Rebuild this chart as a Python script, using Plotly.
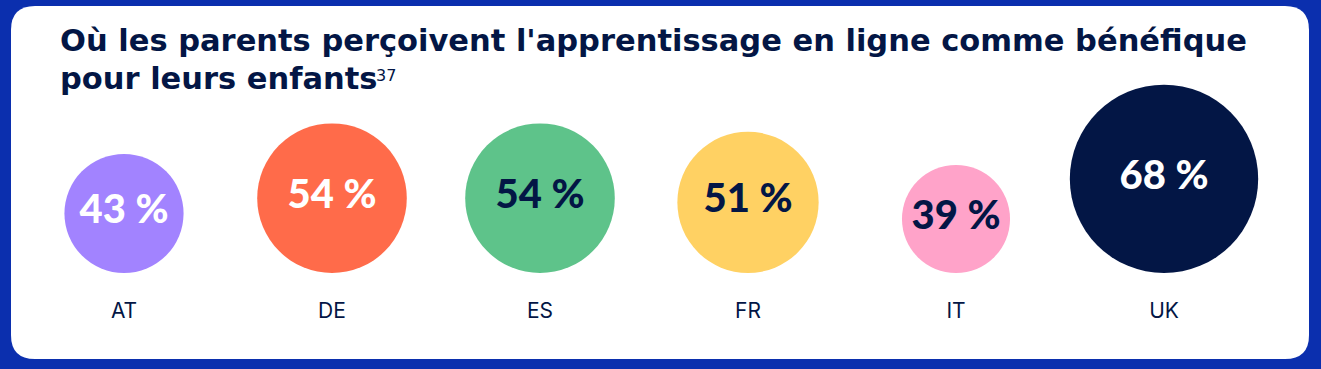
import plotly.graph_objects as go

# ---- data ----
countries = ["AT", "DE", "ES", "FR", "IT", "UK"]
values = [43, 54, 54, 51, 39, 68]
value_labels = ["43 %", "54 %", "54 %", "51 %", "39 %", "68 %"]
colors = ["#a283ff", "#ff6b4a", "#5ec38a", "#ffd163", "#ffa3c9", "#031645"]
label_colors = ["#ffffff", "#ffffff", "#031645", "#031645", "#031645", "#ffffff"]
title_lines = ["Où les parents perçoivent l'apprentissage en ligne comme bénéfique",
               "pour leurs enfants"]
footnote = "37"

# ---- layout constants ----
W, H = 1321, 369
NAVY = "#031645"
BLUE = "#0b2fae"
px_per_value = 1.385          # circle radius (px) per percentage point
baseline = 96                 # bottom of circles, px from bottom of figure

radii = [v * px_per_value for v in values]
y_centers = [baseline + r for r in radii]

fig = go.Figure()
fig.add_trace(go.Scatter(
    x=countries,
    y=y_centers,
    mode="markers+text",
    marker=dict(size=[2 * r for r in radii], color=colors, line=dict(width=0), opacity=1),
    text=value_labels,
    textposition="middle center",
    textfont=dict(family="Lato", size=40, weight=900, color=label_colors),
    hoverinfo="skip",
    showlegend=False,
))

# white rounded card
def rounded_rect(x0, y0, x1, y1, r):
    rx, ry = r / W, r / H
    X0, X1 = x0 / W, x1 / W
    Y0, Y1 = 1 - y1 / H, 1 - y0 / H   # convert from top-based px
    return (f"M {X0+rx},{Y0} L {X1-rx},{Y0} Q {X1},{Y0} {X1},{Y0+ry} "
            f"L {X1},{Y1-ry} Q {X1},{Y1} {X1-rx},{Y1} "
            f"L {X0+rx},{Y1} Q {X0},{Y1} {X0},{Y1-ry} "
            f"L {X0},{Y0+ry} Q {X0},{Y0} {X0+rx},{Y0} Z")

fig.add_shape(type="path", xref="paper", yref="paper",
              path=rounded_rect(11, 6, 1309, 359, 24),
              fillcolor="white", line=dict(width=0), layer="below")

title_font = dict(family="DejaVu Sans", size=30.5, weight=700, color=NAVY)
# baselines of the two title lines (px from top)
for line, base_px in zip(title_lines, [52, 90]):
    fig.add_annotation(
        x=58 / W, y=1 - base_px / H, xref="paper", yref="paper",
        xanchor="left", yanchor="bottom", align="left", showarrow=False,
        yshift=-8, text=line, font=title_font,
    )
# footnote reference
fig.add_annotation(
    x=374 / W, y=1 - 83 / H, xref="paper", yref="paper",
    xanchor="left", yanchor="bottom", showarrow=False, yshift=-4,
    text=footnote, font=dict(family="DejaVu Sans", size=16, color=NAVY),
)

step = 208
first = 124
fig.update_layout(
    width=W, height=H,
    margin=dict(l=0, r=0, t=0, b=0),
    paper_bgcolor=BLUE,
    plot_bgcolor="rgba(0,0,0,0)",
    xaxis=dict(
        type="category",
        range=[-first / step, (W - first) / step],
        anchor="free", position=(H - 296) / H,
        showgrid=False, zeroline=False, showline=False, ticks="",
        tickfont=dict(family="Inter", size=21, color=NAVY),
    ),
    yaxis=dict(range=[0, H], visible=False, showgrid=False, zeroline=False),
)

fig.write_html("out.html", config={"displayModeBar": False},
               post_script="document.body.style.margin='0';")
